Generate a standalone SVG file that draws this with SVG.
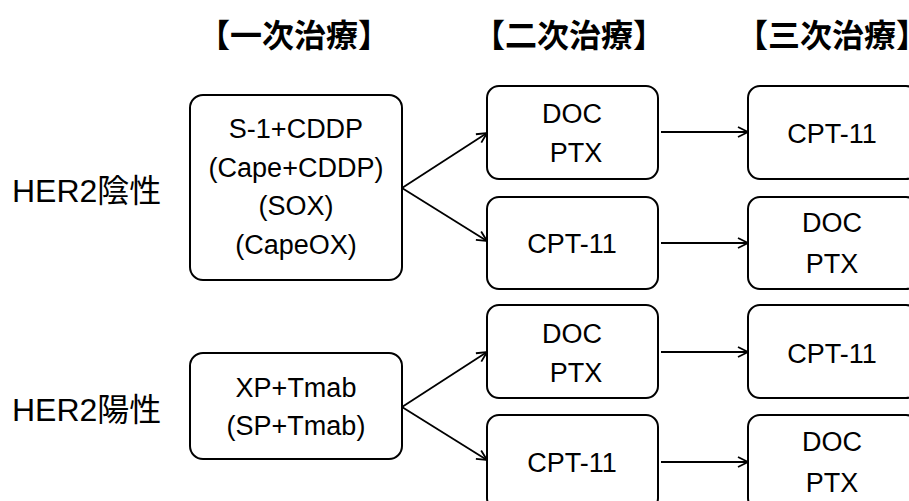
<svg xmlns="http://www.w3.org/2000/svg" width="909" height="501" viewBox="0 0 909 501">
<style>
.box{fill:#fff;stroke:#000;stroke-width:2}
.t{font-family:"Liberation Sans",Arial,sans-serif;font-size:27px;fill:#000;text-anchor:middle}
.h{font-family:"Noto Sans CJK JP","Noto Sans CJK SC",sans-serif;font-size:32px;font-weight:bold;fill:#000;text-anchor:middle}
.lab{font-family:"Liberation Sans","Noto Sans CJK JP",sans-serif;font-size:32px;fill:#000}
.c{stroke:#000;stroke-width:1.8;fill:none;marker-end:url(#ah)}
</style>
<defs>
<marker id="ah" viewBox="0 0 12 12" refX="11" refY="6" markerWidth="12" markerHeight="12" markerUnits="userSpaceOnUse" orient="auto">
<path d="M1,1 L11,6 L1,11" fill="none" stroke="#000" stroke-width="1.8"/>
</marker>
</defs>
<rect width="909" height="501" fill="#fff"/>
<g id="headers">
<text class="h" x="294" y="47">【一次治療】</text>
<text class="h" x="569" y="47">【二次治療】</text>
<text class="h" x="832" y="47">【三次治療】</text>
</g>
<g id="label-neg"><text class="lab" x="12" y="202">HER2<tspan font-family="Noto Sans CJK JP">陰性</tspan></text></g>
<g id="label-pos"><text class="lab" x="12" y="421">HER2<tspan font-family="Noto Sans CJK JP">陽性</tspan></text></g>
<g id="n1">
<rect class="box" x="190" y="95" width="212" height="185" rx="13"/>
<text class="t" x="296" y="138">S-1+CDDP</text>
<text class="t" x="296" y="177">(Cape+CDDP)</text>
<text class="t" x="296" y="215">(SOX)</text>
<text class="t" x="296" y="254">(CapeOX)</text>
</g>
<g id="n2a">
<rect class="box" x="487" y="86" width="171" height="93" rx="12"/>
<text class="t" x="572" y="123">DOC</text>
<text class="t" x="576" y="162">PTX</text>
</g>
<g id="n2b">
<rect class="box" x="487" y="197" width="171" height="92" rx="12"/>
<text class="t" x="572" y="253">CPT-11</text>
</g>
<g id="n3a">
<rect class="box" x="748" y="86" width="170" height="93" rx="12"/>
<text class="t" x="832" y="143">CPT-11</text>
</g>
<g id="n3b">
<rect class="box" x="748" y="197" width="170" height="92" rx="12"/>
<text class="t" x="832" y="232">DOC</text>
<text class="t" x="832" y="273">PTX</text>
</g>
<g id="p1">
<rect class="box" x="190" y="353" width="212" height="106" rx="13"/>
<text class="t" x="296" y="397">XP+Tmab</text>
<text class="t" x="296" y="435">(SP+Tmab)</text>
</g>
<g id="p2a">
<rect class="box" x="487" y="305" width="171" height="93" rx="12"/>
<text class="t" x="572" y="343">DOC</text>
<text class="t" x="576" y="382">PTX</text>
</g>
<g id="p2b">
<rect class="box" x="487" y="415" width="171" height="95" rx="12"/>
<text class="t" x="572" y="472">CPT-11</text>
</g>
<g id="p3a">
<rect class="box" x="748" y="305" width="170" height="93" rx="12"/>
<text class="t" x="832" y="363">CPT-11</text>
</g>
<g id="p3b">
<rect class="box" x="748" y="415" width="170" height="95" rx="12"/>
<text class="t" x="832" y="451">DOC</text>
<text class="t" x="832" y="492">PTX</text>
</g>
<g id="connectors">
<path class="c" d="M402,188 L487,133"/>
<path class="c" d="M402,188 L487,241"/>
<path class="c" d="M661,132 L748,132"/>
<path class="c" d="M661,243 L748,243"/>
<path class="c" d="M402,407 L487,352"/>
<path class="c" d="M402,407 L487,460"/>
<path class="c" d="M661,352 L748,352"/>
<path class="c" d="M661,462 L748,462"/>
</g>
</svg>
